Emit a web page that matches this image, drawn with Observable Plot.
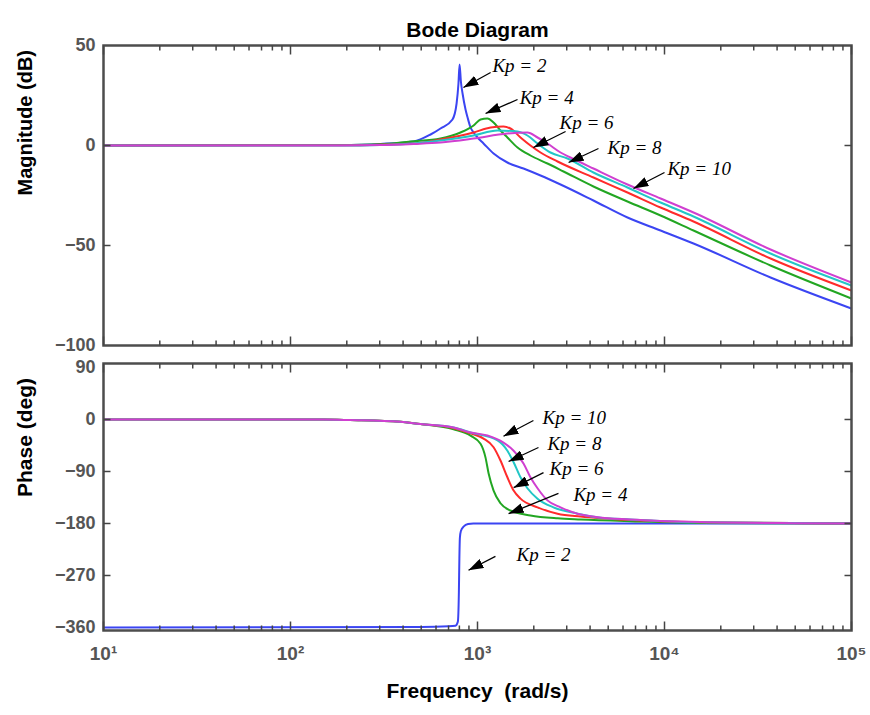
<!DOCTYPE html>
<html>
<head>
<meta charset="utf-8">
<script src="https://cdn.jsdelivr.net/npm/d3@7"></script>
<script src="https://cdn.jsdelivr.net/npm/@observablehq/plot@0.6"></script>
<style>
html, body { margin: 0; padding: 0; background: #fff; }
#chart { position: relative; width: 870px; height: 715px; overflow: hidden; }
#chart svg { position: absolute; left: 0; }
</style>
</head>
<body>
<div id="chart"></div>
<script>
// ---- data (frequency in rad/s, magnitude in dB, phase in deg) ----
const series = ["Kp = 2", "Kp = 4", "Kp = 6", "Kp = 8", "Kp = 10"];
const seriesColors = ["#3b45f2", "#22a622", "#ff2b2b", "#22c6c6", "#d03fd0"];

const magKp2 = [[10,0],[185,0.3],[303,0.8],[455,2],[561,5.5],[634,8.5],[735,13],[773,21],[791,31],[802,40.5],[815,32],[832,26],[863,18],[885,14],[918,9],[953,6.5],[1000,4],[1077,1],[1219,-4],[1445,-8.5],[1762,-11.5],[2173,-15],[2780,-19.5],[4169,-27.5],[6339,-36],[9528,-42.5],[14290,-49],[36900,-66],[100000,-81.5]];
const magKp4 = [[10,0],[185,0.2],[303,0.6],[438,2],[634,3.5],[811,6.5],[953,10],[1038,13],[1130,13.5],[1219,11.5],[1327,7.5],[1445,4],[1637,-1],[1919,-5],[2366,-9],[2884,-13],[4169,-20.5],[6339,-28],[9528,-35],[14290,-42.5],[36900,-60],[100000,-76.5]];
const magKp6 = [[10,0],[185,0.1],[303,0.4],[455,1],[634,3],[953,6.5],[1175,9],[1377,9.5],[1500,8.5],[1698,4],[1919,0],[2173,-3.5],[2679,-8],[4169,-16],[6339,-23.5],[9528,-31],[14290,-38],[36900,-56.5],[100000,-72.5]];
const magKp8 = [[10,0],[185,0],[303,0.3],[455,1],[634,2.5],[953,5],[1279,7.5],[1637,7],[1849,5],[2094,1],[2455,-3.5],[3027,-6.5],[4169,-13.5],[6339,-21],[9528,-28.5],[14290,-35.5],[36900,-54],[100000,-70]];
const magKp10 = [[10,0],[185,0],[303,0.2],[455,0.8],[634,1.5],[953,3.5],[1445,6],[1849,6.5],[2094,4],[2366,1],[2780,-3.5],[3143,-6],[4169,-11.5],[6339,-19.5],[9528,-26.5],[14290,-33.5],[36900,-52],[100000,-68.5]];

const phaseKp2 = [[10,-360],[500,-359],[700,-358],[762,-357],[785,-350],[795,-300],[800,-240],[805,-205],[815,-193],[845,-185],[890,-181],[950,-180],[100000,-180]];
const phaseKp4 = [[10,0],[150,0],[209,-1],[387,-4],[495,-8],[745,-17],[918,-28],[1038,-42],[1104,-66],[1146,-93],[1219,-123],[1327,-145],[1500,-157.5],[1919,-166],[2679,-171],[3556,-173],[6577,-176],[15600,-179],[100000,-180]];
const phaseKp6 = [[10,0],[150,0],[209,-1],[387,-4],[495,-8],[745,-15],[918,-24],[1077,-33],[1219,-48],[1327,-71],[1445,-100],[1560,-123],[1698,-137],[2094,-152],[2679,-163],[3556,-168],[4550,-171],[6577,-174],[15600,-178],[100000,-180]];
const phaseKp8 = [[10,0],[150,0],[209,-1],[387,-4],[495,-8],[745,-14],[918,-22.5],[1279,-36],[1445,-54],[1560,-74],[1698,-100],[1849,-119],[2094,-137],[2547,-152],[3427,-163],[4550,-170],[6577,-173],[15600,-178],[100000,-180]];
const phaseKp10 = [[10,0],[150,0],[209,-1],[387,-4],[495,-8],[745,-14],[918,-22.5],[1130,-27.7],[1377,-40],[1560,-54],[1762,-76],[1919,-100],[2094,-119],[2366,-140],[2780,-152],[3427,-163],[4385,-169],[6577,-173],[15600,-177.5],[49000,-179.5],[100000,-180]];

const magTickLabels = [50, 0, -50, -100];
const magInnerTicks = [0, -50];
const phaseTickLabels = [90, 0, -90, -180, -270, -360];
const phaseInnerTicks = [0, -90, -180, -270];
const freqMajor = [10, 100, 1000, 10000, 100000];
const freqMinor = [2,3,4,5,6,7,8,9].flatMap(m => [10, 100, 1000, 10000].map(p => m * p));

// annotations: label anchor (tx, ty) and arrow tail (x1, y1) -> head (x2, y2), data units
const magNoteLabels = ["Kp = 2", "Kp = 4", "Kp = 6", "Kp = 8", "Kp = 10"];
const magNoteText = [[1202, 40], [1680, 24], [2748, 11.5], [4955, -1], [10370, -11.5]];
const magNoteArrow = [[1175, 36.5, 841, 29], [1637, 23, 1104, 16], [2958, 7, 1991, -1], [4436, -1.5, 3069, -8.5], [10000, -13.5, 6823, -21.5]];
const phaseNoteLabels = ["Kp = 10", "Kp = 8", "Kp = 6", "Kp = 4", "Kp = 2"];
const phaseNoteText = [[2228, 3.5], [2366, -41.5], [2427, -85], [3258, -130], [1618, -235]];
const phaseNoteArrow = [[1991, -1.7, 1377, -29], [2118, -48.5, 1466, -72.7], [2254, -92, 1560, -118], [2710, -128, 1466, -163], [1247, -237, 895, -261]];

// ---- tables built from the arrays ----
const magData = [magKp2, magKp4, magKp6, magKp8, magKp10];
const phaseData = [phaseKp2, phaseKp4, phaseKp6, phaseKp8, phaseKp10];
const magRows = series.flatMap((s, i) => magData[i].map(([f, v]) => ({series: s, f, v})));
const phaseRows = series.flatMap((s, i) => phaseData[i].map(([f, v]) => ({series: s, f, v})));
const notes = (labels, text, arrow) => labels.map((label, i) => ({
  label, tx: text[i][0], ty: text[i][1],
  x1: arrow[i][0], y1: arrow[i][1], x2: arrow[i][2], y2: arrow[i][3]
}));
const magNotes = notes(magNoteLabels, magNoteText, magNoteArrow);
const phaseNotes = notes(phaseNoteLabels, phaseNoteText, phaseNoteArrow);

const sup = {1: "\u00b9", 2: "\u00b2", 3: "\u00b3", 4: "\u2074", 5: "\u2075"};
const sansBold = "'Liberation Sans', Arial, Helvetica, sans-serif";
const serif = "'Liberation Serif', 'Times New Roman', Times, serif";
const grey = "#555";

const W = 870, ML = 103, MR = 19;
const frameW = W - ML - MR;

// inward-pointing short ticks along all four frame edges (drawn as short links in data space)
function tickMarks(yInner, yDomain, frameH) {
  const [y0, y1] = yDomain;
  const k = (y1 - y0) / frameH;                       // data units per pixel (y)
  const lx = Math.pow(100000 / 10, 1 / frameW);        // multiplicative step per pixel (x)
  const s = {stroke: "#444", strokeWidth: 1.5};
  const col = (vals, len, fromTop) => vals.map(f => ({f, a: fromTop ? y1 : y0, b: fromTop ? y1 - len * k : y0 + len * k}));
  const xs = [
    ...col(freqMinor, 5, true), ...col(freqMajor, 9, true),
    ...col(freqMinor, 5, false), ...col(freqMajor, 9, false)
  ];
  const ys = [
    ...yInner.map(v => ({v, a: 10, b: 10 * Math.pow(lx, 7)})),
    ...yInner.map(v => ({v, a: 100000, b: 100000 / Math.pow(lx, 7)}))
  ];
  return [
    Plot.link(xs, {x1: "f", x2: "f", y1: "a", y2: "b", ...s}),
    Plot.link(ys, {y1: "v", y2: "v", x1: "a", x2: "b", ...s})
  ];
}

function noteMarks(data) {
  return [
    Plot.link(data, {x1: "x1", y1: "y1", x2: "x2", y2: "y2", stroke: "black", strokeWidth: 1.3}),
    Plot.text(data, {x: "tx", y: "ty", text: "label", textAnchor: "start", fontFamily: serif,
      fontStyle: "italic", fontSize: 19, fill: "black"})
  ];
}

const common = {
  width: W,
  marginLeft: ML,
  marginRight: MR,
  x: {type: "log", domain: [10, 100000]},
  color: {domain: series, range: seriesColors},
  style: {background: "transparent", overflow: "visible"}
};

const magDomain = [-100, 50];
const phaseDomain = [-365.2, 96.9];

const magPlot = Plot.plot({
  ...common,
  height: 350,
  marginTop: 45,
  marginBottom: 5,
  y: {domain: magDomain},
  marks: [
    Plot.line(magRows, {x: "f", y: "v", stroke: "series", strokeWidth: 2, curve: "monotone-x", clip: true}),
    Plot.axisY(magTickLabels, {anchor: "left", tickSize: 0, tickPadding: 8, label: null,
      fontSize: 18, fontWeight: "bold", fontFamily: sansBold, color: grey}),
    Plot.axisX([], {anchor: "bottom", tickSize: 0, label: null}),
    Plot.frame({stroke: "#4d4d4d", strokeWidth: 2.5}),
    ...tickMarks(magInnerTicks, magDomain, 300),
    Plot.text(["Magnitude (dB)"], {frameAnchor: "left", dx: -78, rotate: -90, fontSize: 20,
      fontWeight: "bold", fontFamily: sansBold, fill: "black"}),
    Plot.text(["Bode Diagram"], {frameAnchor: "top", dy: -23, fontSize: 21,
      fontWeight: "bold", fontFamily: sansBold, fill: "black"}),
    ...noteMarks(magNotes)
  ]
});

const phasePlot = Plot.plot({
  ...common,
  height: 365,
  marginTop: 13,
  marginBottom: 85,
  y: {domain: phaseDomain},
  marks: [
    Plot.line(phaseRows, {x: "f", y: "v", stroke: "series", strokeWidth: 2, curve: "monotone-x", clip: true}),
    Plot.axisY(phaseTickLabels, {anchor: "left", tickSize: 0, tickPadding: 8, label: null,
      fontSize: 18, fontWeight: "bold", fontFamily: sansBold, color: grey}),
    Plot.axisX(freqMajor, {anchor: "bottom", tickSize: 0, tickPadding: 16, label: null,
      tickFormat: d => "10" + sup[Math.round(Math.log10(d))],
      fontSize: 19, fontWeight: "bold", fontFamily: sansBold, color: grey}),
    Plot.frame({stroke: "#4d4d4d", strokeWidth: 2.5}),
    ...tickMarks(phaseInnerTicks, phaseDomain, 267),
    Plot.text(["Phase (deg)"], {frameAnchor: "left", dx: -78, rotate: -90, fontSize: 21,
      fontWeight: "bold", fontFamily: sansBold, fill: "black"}),
    Plot.text(["Frequency\u00a0 (rad/s)"], {frameAnchor: "bottom", dy: 67, fontSize: 21,
      fontWeight: "bold", fontFamily: sansBold, fill: "black"}),
    ...noteMarks(phaseNotes)
  ]
});

// filled arrowheads on the annotation links (the black links)
function addArrowheads(svg, id) {
  const ns = "http://www.w3.org/2000/svg";
  const defs = document.createElementNS(ns, "defs");
  const m = document.createElementNS(ns, "marker");
  m.setAttribute("id", id);
  m.setAttribute("viewBox", "0 0 15 10");
  m.setAttribute("refX", "15");
  m.setAttribute("refY", "5");
  m.setAttribute("markerWidth", "15");
  m.setAttribute("markerHeight", "10");
  m.setAttribute("markerUnits", "userSpaceOnUse");
  m.setAttribute("orient", "auto");
  const p = document.createElementNS(ns, "path");
  p.setAttribute("d", "M0,0L15,5L0,10Z");
  p.setAttribute("fill", "black");
  m.appendChild(p);
  defs.appendChild(m);
  svg.insertBefore(defs, svg.firstChild);
  svg.querySelectorAll('g[aria-label="link"]').forEach(g => {
    if (g.getAttribute("stroke") === "black") {
      g.querySelectorAll("path").forEach(el => el.setAttribute("marker-end", `url(#${id})`));
    }
  });
}
addArrowheads(magPlot, "arrow-mag");
addArrowheads(phasePlot, "arrow-phase");

const chart = document.getElementById("chart");
magPlot.style.top = "0px";
phasePlot.style.top = "350px";
chart.appendChild(magPlot);
chart.appendChild(phasePlot);
</script>
</body>
</html>
